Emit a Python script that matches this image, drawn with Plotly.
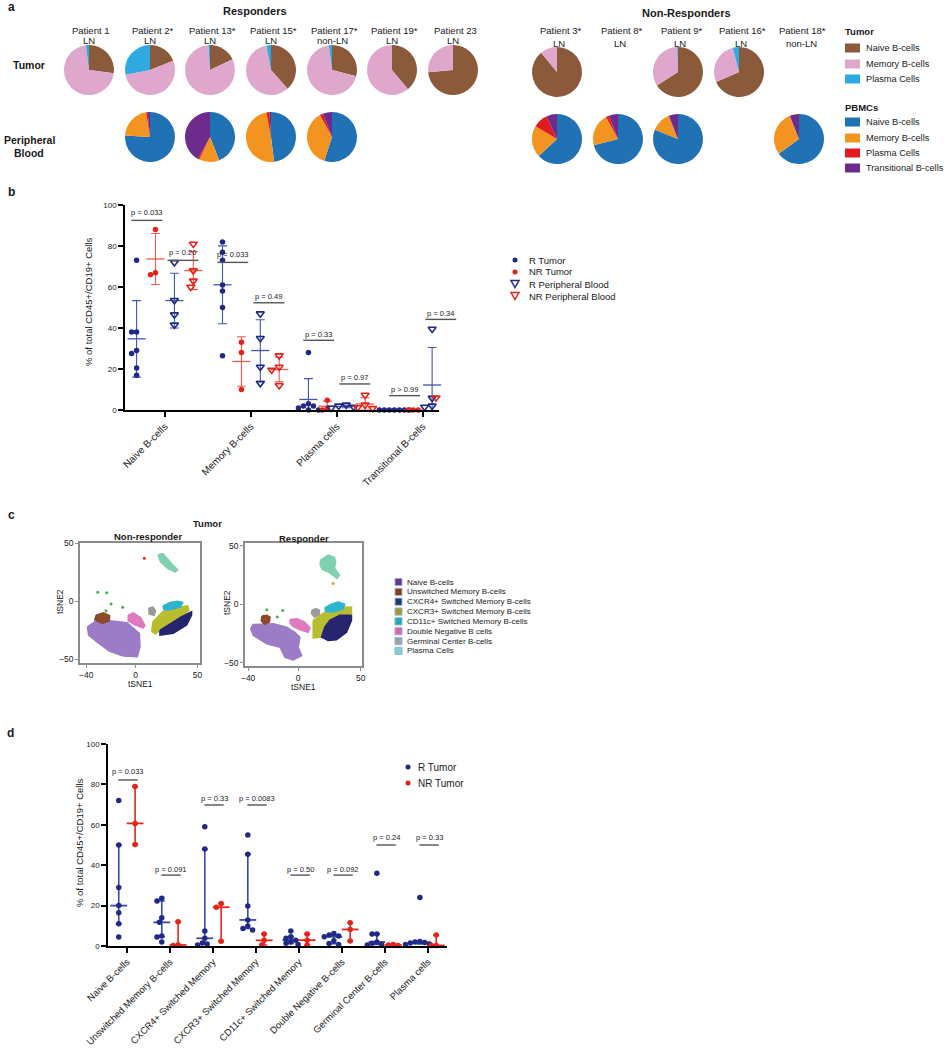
import numpy as np
import plotly.graph_objects as go

# ======================= DATA =======================
tumor_subsets = ["Naive B-cells", "Memory B-cells", "Plasma Cells"]
pbmc_subsets = ["Naive B-cells", "Memory B-cells", "Plasma Cells", "Transitional B-cells"]

responder_names = ["Patient 1", "Patient 2*", "Patient 13*", "Patient 15*", "Patient 17*", "Patient 19*", "Patient 23"]
responder_sites = ["LN", "LN", "LN", "LN", "non-LN", "LN", "LN"]
responder_tumor = [[27, 71, 2], [19, 53, 28], [18, 81, 1], [38.5, 58.5, 3], [29, 69, 2], [39, 61, 0], [73.5, 26.5, 0]]
responder_pbmc = [None, [76, 21.5, 1, 1.5], [44, 13, 1, 42], [48, 49, 2, 1], [55, 37, 2, 6], None, None]

nonresponder_names = ["Patient 3*", "Patient 8*", "Patient 9*", "Patient 16*", "Patient 18*"]
nonresponder_sites = ["LN", "LN", "LN", "LN", "non-LN"]
nonresponder_tumor = [[89, 11, 0], None, [66, 33.5, 0.5], [68.5, 27.5, 4], None]
nonresponder_pbmc = [[63, 20.5, 9.5, 7], [71, 21, 2, 6], [81, 13, 0, 6], None, [65, 29, 0, 6]]

# panel b
b_categories = ["Naive B-cells", "Memory B-cells", "Plasma cells", "Transitional B-cells"]
b_series = ["R Tumor", "NR Tumor", "R Peripheral Blood", "NR Peripheral Blood"]
b_r_tumor = [[73, 38, 38, 29, 27.5, 20.5, 17], [82, 77, 73, 61, 58, 50, 26.5],
             [28, 3, 2, 2, 1, 0, 0], [0, 0, 0, 0, 0, 0, 0]]
b_nr_tumor = [[88, 67, 66], [33, 28, 10], [4.7, 0.8, 0], [0, 0, 0]]
b_r_pb = [[72, 53.5, 46.5, 41.5], [47, 35, 21, 13], [2.5, 2, 1.5, 1], [39.5, 5.8, 2, 1.5]]
b_nr_pb = [[81, 68, 63, 60], [26.5, 21, 19.5, 12], [7.3, 2.5, 1.2, 0.8], [7.5, 7, 6.5, 6]]
b_pvalues = ["p = 0.033", "p = 0.20", "p = 0.033", "p = 0.49", "p = 0.33", "p = 0.97", "p > 0.99", "p = 0.34"]

# panel c
tsne_subsets = ["Naive B-cells", "Unswitched Memory B-cells", "CXCR4+ Switched Memory B-cells",
                "CXCR3+ Switched Memory B-cells", "CD11c+ Switched Memory B-cells",
                "Double Negative B cells", "Germinal Center B-cells", "Plasma Cells"]
# cluster outlines (tSNE1, tSNE2), order as tsne_subsets
nr_cluster_x = [[-39, -33, -21, -7, -2, 3, 3.5, 1.3, -10, -21, -30, -38],
                [-32, -26, -21, -21.5, -27, -33],
                [19.6, 26.4, 37.2, 45.2, 45.2, 41.2, 30.4, 19.6],
                [13, 14, 22, 30, 42, 43, 37, 26, 19.6, 16],
                [22, 28, 34, 38, 36, 28, 23],
                [-6, -2, 4, 7.5, 6, -1, -6],
                [10.5, 14, 16, 15, 11],
                [18, 22, 26, 30, 34, 32, 26, 20]]
nr_cluster_y = [[-22, -17.5, -16.7, -18.4, -23, -27.5, -39, -47.6, -47, -43, -36, -29],
                [-12, -10, -12.5, -17, -19, -16],
                [-25, -20.4, -13.2, -9, -11.8, -20.4, -27.5, -29],
                [-26, -17.5, -9, -6, -4, -8, -13, -20, -25, -28],
                [-4, -1, 0, -1, -5, -7, -7.5],
                [-12, -10, -14, -21, -23, -20, -17],
                [-6, -5, -8, -12, -11],
                [40, 41, 36, 31, 27, 25, 28, 34]]
r_cluster_x = [[-36.3, -19.9, -9.2, -2.6, 1.4, 0, 2.8, -4, -10.5, -14.5, -25.1, -35.8, -37.9],
               [-29, -25, -22.5, -23, -27, -29.5],
               [42.6, 33.2, 25.3, 21.3, 18.7, 23.9, 30.6, 38.6, 42.6],
               [12, 21.3, 33.2, 42.6, 42.6, 33.2, 25.3, 21.3, 18.7, 12],
               [21.3, 26, 32, 37.2, 36, 28, 22],
               [-6.5, -1, 5, 9.4, 8, 2, -4, -6.5],
               [11, 14, 17, 17, 13, 10.7],
               [18, 24, 29, 30, 29, 33, 31, 25, 19, 17.5]]
r_cluster_y = [[-17.2, -16.6, -19.5, -23.8, -28, -36.6, -43.7, -47.4, -45.2, -36.6, -33.7, -26.6, -20.8],
               [-10, -9.4, -11, -15, -17, -14],
               [-9.4, -9.4, -13.7, -19.5, -28, -30.9, -30.3, -23.8, -13.7],
               [-13.7, -6.6, -2.8, -2.3, -9.4, -9.4, -13.7, -19.5, -28, -28.6],
               [-3, 0, 2, 0, -4, -6.6, -6],
               [-13, -12.3, -15, -20, -23.8, -22, -19, -16],
               [-5, -3.7, -5, -9, -10.9, -8],
               [38, 42, 40, 36, 31, 25, 22, 27, 30, 34]]
nr_stray_x = [-30.7, -23.4, -19.9, -10.5, -24]
nr_stray_y = [7.7, 7.4, -2.4, -5.2, -8.1]
nr_red_x = [7]
nr_red_y = [36.9]
r_stray_x = [-25.1, -16.7, -12.4]
r_stray_y = [-4.6, -10.9, -5.2]
r_orange_x = [27.9]
r_orange_y = [17.8]

# panel d
d_categories = ["Naive B-cells", "Unswitched Memory B-cells", "CXCR4+ Switched Memory",
                "CXCR3+ Switched Memory", "CD11c+ Switched Memory", "Double Negative B-cells",
                "Germinal Center B-cells", "Plasma cells"]
d_series = ["R Tumor", "NR Tumor"]
d_r_tumor = [[72, 50, 29, 20, 16.5, 11, 4.5], [23.6, 22.3, 14, 11.7, 5, 4.5, 2],
             [59, 48, 7.4, 3.8, 1.5, 1, 0.5], [55, 45.4, 19.8, 12.9, 9.9, 8.7, 7.9],
             [7.4, 4.6, 3.8, 2.9, 2, 1.3, 0.8], [6.2, 5.5, 5, 4.6, 2.6, 1.2, 0.8],
             [36, 6, 6, 2, 1.3, 0.8, 0.5], [24, 2.2, 2, 1.7, 1.5, 1, 0.8]]
d_nr_tumor = [[79, 60.7, 50.3], [12, 0.5, 0.3], [21, 19.2, 2.3], [5.9, 2.8, 0.5],
              [5.9, 2.9, 0.5], [11.5, 8.2, 2.5], [0.8, 0.5, 0.3], [5.4, 0.3, 0.2]]
d_pvalues = ["p = 0.033", "p = 0.091", "p = 0.33", "p = 0.0083", "p = 0.50", "p = 0.092", "p = 0.24", "p = 0.33"]

# ======================= STYLE / LAYOUT =======================
W, H = 944, 1050
FONT = "Liberation Sans, Arial, sans-serif"
INK = "#1a1a1a"
TUMOR_COLORS = ["#8a5a3a", "#e0a7cd", "#2ea9e1"]
PBMC_COLORS = ["#2171b5", "#f39420", "#e31a1c", "#6e2b8c"]
NAVY, RED = "#1f2a86", "#e3241b"
NAVY_BAR, RED_BAR = "#4654b4", "#ef5a52"
TSNE_PLOT_COLORS = ["#9c7cc6", "#8a4a2c", "#27246f", "#b7bd2f", "#2cb5cf", "#e07ac0", "#9b9b9b", "#80d1b2"]
TSNE_LEG_COLORS = ["#6e3198", "#8b3c1c", "#1e3a6c", "#9b9a25", "#20a9bb", "#e062a9", "#a3a3a8", "#7ed0dc"]


def PX(x):
    return x / W


def PY(y):
    return 1 - y / H


fig = go.Figure()
annotations = []
shapes = []


def text(x, y, s, size=10, bold=False, xanchor="center", yanchor="middle", angle=0, color=INK):
    annotations.append(dict(x=PX(x), y=PY(y), xref="paper", yref="paper", text=f"<b>{s}</b>" if bold else s,
                            showarrow=False, xanchor=xanchor, yanchor=yanchor, textangle=angle,
                            font=dict(family=FONT, size=size, color=color)))


# ---------------- Panel a: pies ----------------
resp_cx = [89, 150, 210, 271, 332, 392, 453]
nonresp_cx = [557, 618, 678, 739, 799]
tumor_cy = {"R": 70, "NR": 72}
blood_cy = {"R": 137, "NR": 139}
R_PIE = 25


def add_pie(cx, cy, values, labels, colors):
    fig.add_trace(go.Pie(values=values, labels=labels, sort=False, direction="clockwise", rotation=0,
                         marker=dict(colors=colors, line=dict(width=0)), textinfo="none",
                         hoverinfo="label+percent", showlegend=False, automargin=False,
                         domain=dict(x=[PX(cx - R_PIE), PX(cx + R_PIE)], y=[PY(cy + R_PIE), PY(cy - R_PIE)])))


for i, cx in enumerate(resp_cx):
    if responder_tumor[i] is not None:
        add_pie(cx, tumor_cy["R"], responder_tumor[i], tumor_subsets, TUMOR_COLORS)
    if responder_pbmc[i] is not None:
        add_pie(cx, blood_cy["R"], responder_pbmc[i], pbmc_subsets, PBMC_COLORS)
    text(cx + 2, 30, responder_names[i], 9.5)
    text(cx, 41, responder_sites[i], 9.5)
for i, cx in enumerate(nonresp_cx):
    if nonresponder_tumor[i] is not None:
        add_pie(cx, tumor_cy["NR"], nonresponder_tumor[i], tumor_subsets, TUMOR_COLORS)
    if nonresponder_pbmc[i] is not None:
        add_pie(cx, blood_cy["NR"], nonresponder_pbmc[i], pbmc_subsets, PBMC_COLORS)
    text(cx + 3, 31, nonresponder_names[i], 9.5)
    text(cx + 2, 43, nonresponder_sites[i], 9.5)

text(6, 7, "a", 12, True, xanchor="left")
text(255, 11, "Responders", 11, True)
text(686, 13, "Non-Responders", 11, True)
text(29, 65, "Tumor", 10.5, True)
text(29, 140, "Peripheral", 10.5, True)
text(29, 153, "Blood", 10.5, True)

# legend a
text(843, 32, "Tumor", 9.5, True, xanchor="left")
for k, (lab, col) in enumerate(zip(tumor_subsets, TUMOR_COLORS)):
    yy = [48, 64, 79][k]
    shapes.append(dict(type="rect", xref="paper", yref="paper", x0=PX(845), x1=PX(860), y0=PY(yy + 4.5),
                       y1=PY(yy - 4.5), fillcolor=col, line=dict(width=0)))
    text(864, yy, lab, 9.2, xanchor="left")
text(843, 107, "PBMCs", 9.5, True, xanchor="left")
for k, (lab, col) in enumerate(zip(pbmc_subsets, PBMC_COLORS)):
    yy = [122, 138, 153, 168][k]
    shapes.append(dict(type="rect", xref="paper", yref="paper", x0=PX(845), x1=PX(860), y0=PY(yy + 4.5),
                       y1=PY(yy - 4.5), fillcolor=col, line=dict(width=0)))
    text(864, yy, lab, 9.2, xanchor="left")


# ---------------- helpers for dot plots ----------------
def beeswarm(vals, sx, sy, dmin, step):
    placed = []
    res = [0.0] * len(vals)
    order = sorted(range(len(vals)), key=lambda i: -vals[i])
    for i in order:
        ypx = vals[i] * sy
        k = 0
        chosen = None
        while chosen is None:
            cands = [0.0] if k == 0 else [-k * step, k * step]
            for c in cands:
                if all((c - a) ** 2 + (ypx - b) ** 2 >= dmin ** 2 for a, b in placed):
                    chosen = c
                    break
            k += 1
        placed.append((chosen, ypx))
        res[i] = chosen / sx
    return res


# ---------------- Panel b ----------------
B_LEFT, B_RIGHT, B_XMIN, B_XMAX = 125, 439, -0.465, 3.19
B_SX, B_SY = (B_RIGHT - B_LEFT) / (B_XMAX - B_XMIN), 2.05


def b_xpx(x):
    return B_LEFT + (x - B_XMIN) * B_SX


def b_ypx(y):
    return 410 - y * B_SY


b_groups = [b_r_tumor, b_nr_tumor, b_r_pb, b_nr_pb]
b_offsets = [-0.33, -0.11, 0.11, 0.33]
b_colors = [NAVY, RED, NAVY, RED]
b_bar_colors = [NAVY_BAR, RED_BAR, NAVY_BAR, RED_BAR]
b_symbols = ["circle", "circle", "triangle-down-open", "triangle-down-open"]

for g, grp in enumerate(b_groups):
    cx, means, sds = [], [], []
    xs, ys = [], []
    for i, vals in enumerate(grp):
        v = np.array(vals, dtype=float)
        cx.append(i + b_offsets[g])
        means.append(v.mean())
        sds.append(v.std(ddof=1))
        offs = beeswarm(vals, B_SX, B_SY, 5.0 if g < 2 else 6.5, 2.5)
        xs += [i + b_offsets[g] + o for o in offs]
        ys += list(vals)
    fig.add_trace(go.Scatter(x=cx, y=means, mode="markers", xaxis="x", yaxis="y", showlegend=False,
                             cliponaxis=False, hoverinfo="skip",
                             marker=dict(symbol="line-ew", size=13, color=b_bar_colors[g],
                                         line=dict(width=1.3, color=b_bar_colors[g])),
                             error_y=dict(type="data", array=sds, visible=True, color=b_bar_colors[g],
                                          thickness=1.1, width=4.5)))
    fig.add_trace(go.Scatter(x=xs, y=ys, mode="markers", xaxis="x", yaxis="y", name=b_series[g],
                             showlegend=False, cliponaxis=False,
                             marker=dict(symbol=b_symbols[g], size=5.5 if g < 2 else 7, color=b_colors[g],
                                         line=dict(width=1.6 if g >= 2 else 0, color=b_colors[g]))))

b_p_center = [-0.21, 0.21]
b_p_text_y = [96.5, 77, 76, 55.6, 37, 15.8, 10.2, 47.3]
b_p_line_y = [92.5, 73, 72, 52.3, 34, 12.7, 7, 44.2]
for k, s in enumerate(b_pvalues):
    c = k // 2 + b_p_center[k % 2]
    shapes.append(dict(type="line", xref="paper", yref="paper", x0=PX(b_xpx(c - 0.18)), x1=PX(b_xpx(c + 0.18)),
                       y0=PY(b_ypx(b_p_line_y[k])), y1=PY(b_ypx(b_p_line_y[k])),
                       line=dict(color="#555555", width=1.4)))
    text(b_xpx(c), b_ypx(b_p_text_y[k]), s, 7.5, color="#222222")

text(6, 192, "b", 12, True, xanchor="left")
text(88, 302, "% of total CD45+/CD19+ Cells", 9.5, angle=-90)

# legend b
leg_b_y = [260, 272, 284, 296]
for k in range(4):
    yy = leg_b_y[k]
    col = b_colors[k]
    if k < 2:
        shapes.append(dict(type="circle", xref="paper", yref="paper", x0=PX(512.5), x1=PX(517.5),
                           y0=PY(yy + 2.5), y1=PY(yy - 2.5), fillcolor=col, line=dict(width=0)))
    else:
        path = (f"M {PX(511)},{PY(yy - 3.5)} L {PX(519)},{PY(yy - 3.5)} L {PX(515)},{PY(yy + 3.5)} Z")
        shapes.append(dict(type="path", xref="paper", yref="paper", path=path,
                           line=dict(color=col, width=1.5)))
    text(527, yy, b_series[k], 9.5, xanchor="left")


# ---------------- Panel c ----------------
def add_clusters(xs_list, ys_list, xa, ya, draw_order):
    for k in draw_order:
        cx_, cy_ = xs_list[k], ys_list[k]
        fig.add_trace(go.Scatter(x=cx_ + [cx_[0]], y=cy_ + [cy_[0]], mode="lines", fill="toself",
                                 fillcolor=TSNE_PLOT_COLORS[k], line=dict(color=TSNE_PLOT_COLORS[k], width=1.5),
                                 xaxis=xa, yaxis=ya, showlegend=False, name=tsne_subsets[k], hoverinfo="name"))


draw_order = [0, 1, 5, 6, 3, 2, 4, 7]
add_clusters(nr_cluster_x, nr_cluster_y, "x2", "y2", draw_order)
add_clusters(r_cluster_x, r_cluster_y, "x3", "y3", draw_order)

fig.add_trace(go.Scatter(x=nr_stray_x, y=nr_stray_y, mode="markers", xaxis="x2", yaxis="y2", showlegend=False,
                         marker=dict(size=3, color="#4caf50")))
fig.add_trace(go.Scatter(x=nr_red_x, y=nr_red_y, mode="markers", xaxis="x2", yaxis="y2", showlegend=False,
                         marker=dict(size=3, color="#e8261c")))
fig.add_trace(go.Scatter(x=r_stray_x, y=r_stray_y, mode="markers", xaxis="x3", yaxis="y3", showlegend=False,
                         marker=dict(size=3, color="#4caf50")))
fig.add_trace(go.Scatter(x=r_orange_x, y=r_orange_y, mode="markers", xaxis="x3", yaxis="y3", showlegend=False,
                         marker=dict(size=3, color="#f39420")))

text(6, 515, "c", 12, True, xanchor="left")
text(207, 523, "Tumor", 9.5, True)
text(148, 536, "Non-responder", 9.5, True)
text(304, 538, "Responder", 9.5, True)
text(60, 602, "tSNE2", 8.5, angle=-90)
text(140, 684, "tSNE1", 8.5)
text(227, 603, "tSNE2", 8.5, angle=-90)
text(303, 687, "tSNE1", 8.5)
for k, lab in enumerate(tsne_subsets):
    yy = 582 + 9.85 * k
    shapes.append(dict(type="rect", xref="paper", yref="paper", x0=PX(395), x1=PX(402), y0=PY(yy + 3.6),
                       y1=PY(yy - 3.6), fillcolor=TSNE_LEG_COLORS[k], line=dict(width=1, color="#9bb3cf")))
    text(405, yy, lab, 8, xanchor="left")

# ---------------- Panel d ----------------
d_groups = [d_r_tumor, d_nr_tumor]
d_offsets = [-0.19, 0.19]
d_colors = [NAVY, RED]
d_bar_colors = ["#3a49b0", "#e8261c"]
D_SX, D_SY = 43.0, 2.02
for g, grp in enumerate(d_groups):
    cx, meds, up, dn = [], [], [], []
    xs, ys = [], []
    for i, vals in enumerate(grp):
        v = np.array(vals, dtype=float)
        q1, med, q3 = np.percentile(v, [25, 50, 75], method="weibull")
        cx.append(i + d_offsets[g])
        meds.append(med)
        up.append(q3 - med)
        dn.append(med - q1)
        offs = beeswarm(vals, D_SX, D_SY, 4.8, 2.4)
        xs += [i + d_offsets[g] + o for o in offs]
        ys += list(vals)
    fig.add_trace(go.Scatter(x=cx, y=meds, mode="markers", xaxis="x4", yaxis="y4", showlegend=False,
                             cliponaxis=False, hoverinfo="skip",
                             marker=dict(symbol="line-ew", size=12, color=d_bar_colors[g],
                                         line=dict(width=1.8, color=d_bar_colors[g])),
                             error_y=dict(type="data", symmetric=False, array=up, arrayminus=dn, visible=True,
                                          color=d_bar_colors[g], thickness=1.6, width=3)))
    fig.add_trace(go.Scatter(x=xs, y=ys, mode="markers", xaxis="x4", yaxis="y4", name=d_series[g],
                             showlegend=False, cliponaxis=False,
                             marker=dict(symbol="circle", size=5.5, color=d_colors[g])))

d_p_text_y = [86.3, 38, 73.1, 73.1, 38, 38, 53.6, 53.6]
d_p_line_y = [82.2, 35.1, 69.8, 69.8, 35.1, 35.1, 50, 50]
for k, s in enumerate(d_pvalues):
    shapes.append(dict(type="line", xref="x4", yref="y4", x0=k - 0.2, x1=k + 0.25, y0=d_p_line_y[k],
                       y1=d_p_line_y[k], line=dict(color="#555555", width=1.4)))
    annotations.append(dict(x=k + 0.03, y=d_p_text_y[k], xref="x4", yref="y4", text=s, showarrow=False,
                            font=dict(family=FONT, size=7.5, color="#222222")))

text(5, 733, "d", 12, True, xanchor="left")
text(79, 843, "% of total CD45+/CD19+ Cells", 9.5, angle=-90)
for k in range(2):
    yy = [767, 783][k]
    shapes.append(dict(type="circle", xref="paper", yref="paper", x0=PX(405.5), x1=PX(410.5),
                       y0=PY(yy + 2.5), y1=PY(yy - 2.5), fillcolor=d_colors[k], line=dict(width=0)))
    text(416, yy, d_series[k], 10, xanchor="left")

# ---------------- axes ----------------
dot_axis = dict(showgrid=False, zeroline=False, showline=True, linecolor="black", linewidth=1.5,
                ticks="outside", ticklen=5, tickwidth=1.5, tickcolor="black", automargin=False,
                tickfont=dict(family=FONT, size=8, color=INK))
tsne_axis = dict(showgrid=False, zeroline=False, showline=True, mirror=True, linecolor="#8c8c8c", linewidth=1.5,
                 ticks="outside", ticklen=3, tickcolor="#8c8c8c", automargin=False,
                 tickfont=dict(family=FONT, size=8.5, color=INK))

fig.update_layout(
    width=W, height=H, margin=dict(l=0, r=0, t=0, b=0, autoexpand=False), paper_bgcolor="white",
    plot_bgcolor="white", showlegend=False, font=dict(family=FONT, color=INK),
    xaxis=dict(dot_axis, domain=[PX(B_LEFT), PX(B_RIGHT)], range=[B_XMIN, B_XMAX], tickvals=[0, 1, 2, 3],
               ticktext=b_categories, tickangle=-45, tickfont=dict(family=FONT, size=10, color=INK), anchor="y"),
    yaxis=dict(dot_axis, domain=[PY(410), PY(205)], range=[0, 100], tickvals=[0, 20, 40, 60, 80, 100], anchor="x"),
    xaxis2=dict(tsne_axis, domain=[PX(80), PX(200)], range=[-45, 52], tickvals=[-40, 0, 50], anchor="y2"),
    yaxis2=dict(tsne_axis, domain=[PY(663), PY(543)], range=[-53, 50], tickvals=[-50, 0, 50], anchor="x2"),
    xaxis3=dict(tsne_axis, domain=[PX(245), PX(362)], range=[-42.5, 51], tickvals=[-40, 0, 50], anchor="y3"),
    yaxis3=dict(tsne_axis, domain=[PY(666), PY(543)], range=[-52.6, 52.3], tickvals=[-50, 0, 50], anchor="x3"),
    xaxis4=dict(dot_axis, domain=[PX(108), PX(447)], range=[-0.44, 7.44], tickvals=list(range(8)),
                ticktext=d_categories, tickangle=-45, tickfont=dict(family=FONT, size=9.5, color=INK), anchor="y4"),
    yaxis4=dict(dot_axis, domain=[PY(946), PY(744)], range=[0, 100], tickvals=[0, 20, 40, 60, 80, 100], anchor="x4"),
    annotations=annotations, shapes=shapes,
)

fig.write_html("out.html", config={"displayModeBar": False}, post_script=(
    "document.body.style.margin='0';document.body.style.padding='0';"
    "document.body.style.overflow='hidden';document.documentElement.style.overflow='hidden';"))
